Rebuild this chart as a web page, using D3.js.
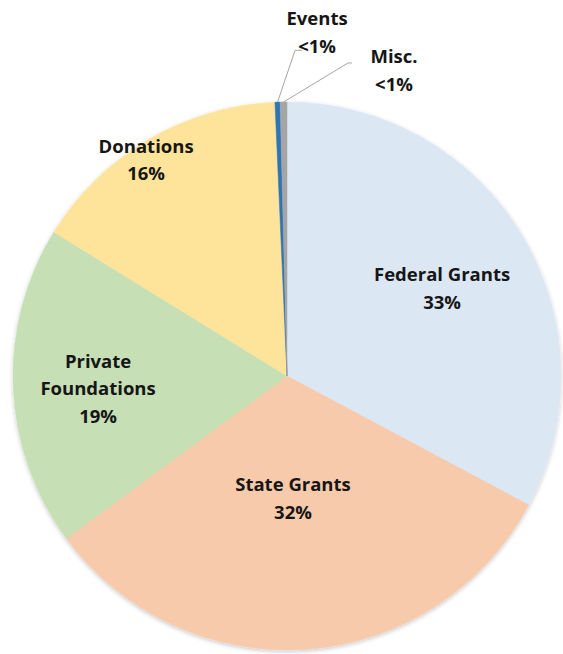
<!DOCTYPE html>
<html><head><meta charset="utf-8">
<script src="https://cdn.jsdelivr.net/npm/d3@7"></script>
<style>
html,body{margin:0;padding:0;background:#fff;}
svg{display:block;}
text{font-family:"Open Sans",Lato,sans-serif;font-weight:700;fill:#161616;}
</style></head>
<body>
<svg id="chart" width="563" height="654"></svg>
<script>
// ---- data ----
const categories = ["Federal Grants", "State Grants", "Private Foundations", "Donations", "Events", "Misc."];
const values = [32.8, 32.1, 18.9, 15.5, 0.3, 0.4];
const pctLabels = ["33%", "32%", "19%", "16%", "<1%", "<1%"];
const labelLines = [["Federal Grants"], ["State Grants"], ["Private", "Foundations"], ["Donations"], ["Events"], ["Misc."]];
const colors = ["#DCE7F4", "#F7CAAB", "#C6DFB4", "#FEE49A", "#2E75B6", "#A5A5A5"];

// ---- layout (not data) ----
const W = 563, H = 654, cx = 287, cy = 376, R = 274;
const labelPos = [[60.6, 178], [177.2, 122.6], [266.1, 189.4], [326.9, 258], [5.0, 345], [19.3, 323.7]];
const leader = [null, null, null, null, {elbow: [-22, 18], end: [-15, 18]}, {elbow: [-46, -7.5], end: [-42, -7.5]}];
const lineH = 27.5;

const svg = d3.select("#chart");
const defs = svg.append("defs");
const f = defs.append("filter").attr("id", "sh").attr("x", "-10%").attr("y", "-10%").attr("width", "120%").attr("height", "120%");
f.append("feDropShadow").attr("dx", 0).attr("dy", 1.5).attr("stdDeviation", 2).attr("flood-color", "#000").attr("flood-opacity", 0.22);

const data = categories.map((c, i) => ({name: c, value: values[i], i}));
const pie = d3.pie().sort(null).value(d => d.value).startAngle(0).endAngle(2 * Math.PI);
const arcs = pie(data);
const arc = d3.arc().innerRadius(0).outerRadius(R);

const g = svg.append("g").attr("transform", `translate(${cx},${cy})`);
const pg = g.append("g").attr("filter", "url(#sh)");
pg.selectAll("path").data(arcs).join("path")
  .attr("d", arc)
  .attr("fill", d => colors[d.data.i])
  .attr("stroke", d => colors[d.data.i])
  .attr("stroke-width", 0.5);

const polar = (deg, r) => {
  const a = deg * Math.PI / 180;
  return [r * Math.sin(a), -r * Math.cos(a)];
};

// leader lines
arcs.forEach(d => {
  const L = leader[d.data.i];
  if (!L) return;
  const mid = (d.startAngle + d.endAngle) / 2;
  const start = [R * Math.sin(mid), -R * Math.cos(mid)];
  const [lx, ly] = polar(labelPos[d.data.i][0], labelPos[d.data.i][1]);
  const pts = [start, [lx + L.elbow[0], ly + L.elbow[1]], [lx + L.end[0], ly + L.end[1]]];
  g.append("path")
    .attr("d", d3.line()(pts))
    .attr("fill", "none")
    .attr("stroke", "#A6A6A6")
    .attr("stroke-width", 1);
});

// labels
arcs.forEach(d => {
  const i = d.data.i;
  const [lx, ly] = polar(labelPos[i][0], labelPos[i][1]);
  const lines = labelLines[i].concat([pctLabels[i]]);
  const t = g.append("text")
    .attr("text-anchor", "middle")
    .attr("font-size", 18.5)
    .attr("transform", `translate(${lx},${ly})`);
  lines.forEach((s, k) => {
    t.append("tspan")
      .attr("x", 0)
      .attr("y", (k - (lines.length - 1) / 2) * lineH + 6.5)
      .text(s);
  });
});
</script>
</body></html>
